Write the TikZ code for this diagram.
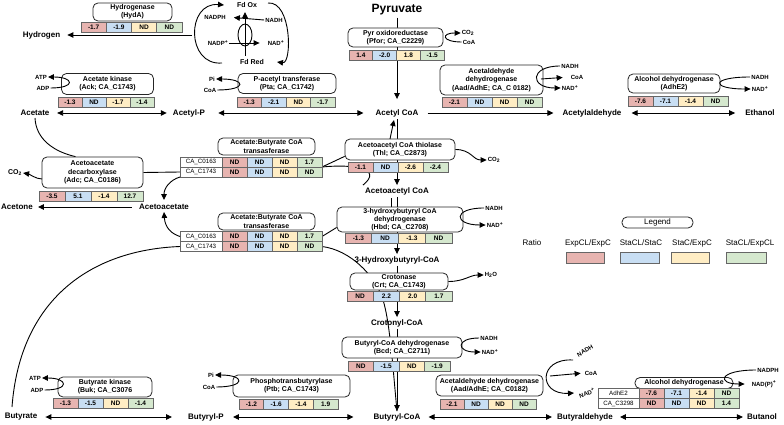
\documentclass[tikz,border=0pt]{standalone}
\usepackage{fontspec}
\setmainfont{Liberation Sans}
\usetikzlibrary{arrows.meta}
\pgfdeclarelayer{bg}
\pgfsetlayers{bg,main}
\definecolor{cR}{RGB}{231,180,176}
\definecolor{cB}{RGB}{200,222,243}
\definecolor{cY}{RGB}{255,237,196}
\definecolor{cG}{RGB}{213,232,206}
\newcommand\ratrow[7]{%
  \node[cell,fill=cR,minimum width=#3pt,anchor=west] (#1-1) at #2 {#4};
  \node[cell,fill=cB,minimum width=#3pt,anchor=west] (#1-2) at (#1-1.east) {#5};
  \node[cell,fill=cY,minimum width=#3pt,anchor=west] (#1-3) at (#1-2.east) {#6};
  \node[cell,fill=cG,minimum width=#3pt,anchor=west] (#1-4) at (#1-3.east) {#7};}
\tikzset{
  met/.style={font=\bfseries\fontsize{8}{9}\selectfont, inner sep=2pt},
  enz/.style={draw=black!85, line width=0.8pt, rounded corners=5pt, fill=white, align=center, font=\bfseries\fontsize{7}{8.2}\selectfont, inner sep=0pt},
  cell/.style={draw=black!60, line width=0.6pt, minimum height=10pt, inner sep=0pt, outer sep=0pt, font=\bfseries\fontsize{6.5}{7}\selectfont},
  lab/.style={cell, fill=white, minimum width=42pt, font=\fontsize{6.2}{7}\selectfont},
  cof/.style={font=\bfseries\fontsize{6}{7}\selectfont, inner sep=1pt},
  fd/.style={font=\bfseries\fontsize{7}{8}\selectfont, inner sep=1pt},
  hdr/.style={font=\fontsize{8}{9}\selectfont, inner sep=1pt},
  ln/.style={line width=0.9pt},
  arr/.style={line width=0.9pt, -{Triangle[length=6pt,width=5.5pt]}},
  darr/.style={line width=0.9pt, {Triangle[length=6pt,width=5.5pt]}-{Triangle[length=6pt,width=5.5pt]}},
}
\begin{document}
\begin{tikzpicture}[x=1pt,y=-1pt]
\useasboundingbox (0,0) rectangle (784,425);

% ---------------- top: hydrogenase and ferredoxin ----------------
\node[enz,minimum width=79pt,minimum height=18pt] (hyda) at (132.5,12) {Hydrogenase\\(HydA)};
\ratrow{rhyd}{(81,27)}{25.25}{-1.7}{-1.9}{ND}{ND}
\node[met] (hydrogen) at (41.5,35) {Hydrogen};
\coordinate (hstart) at (192,35);

\node[fd] (fdox) at (247,5) {Fd Ox};
\node[fd] (fdred) at (252,62) {Fd Red};
\node[cof] (nadph1) at (215,17) {NADPH};
\node[cof] (nadh1) at (274,20) {NADH};
\node[cof] (nadp1) at (218,43) {NADP\textsuperscript{+}};
\node[cof] (nad1) at (276,43) {NAD\textsuperscript{+}};
\coordinate (fa1) at (222,63);
\coordinate (fa2) at (224,5);
\coordinate (fb1) at (268,3);
\coordinate (fb2) at (277,62);
\coordinate (fv1) at (245,56);
\coordinate (fv2) at (245,12);
\coordinate (fe) at (245,35);

% ---------------- pyruvate ----------------
\node[met,font=\bfseries\fontsize{12}{14}\selectfont] (pyr) at (397,10) {Pyruvate};
\node[enz,minimum width=95pt,minimum height=19pt] (pfor) at (395.5,37.5) {Pyr oxidoreductase\\(Pfor; CA\_C2229)};
\ratrow{rpfor}{(349,55.5)}{23.75}{1.4}{-2.0}{1.8}{-1.5}
\node[cof] (co2a) at (468,33) {CO\textsubscript{2}};
\node[cof] (coaa) at (469,42) {CoA};

% ---------------- row 2 ----------------
\node[met] (acetate) at (35,113) {Acetate};
\node[met] (acetylp) at (189,113) {Acetyl-P};
\node[met] (acetylcoa) at (397,113) {Acetyl CoA};
\node[met] (acetald) at (592,113) {Acetylaldehyde};
\node[met] (ethanol) at (760,113) {Ethanol};

\node[enz,minimum width=92pt,minimum height=21pt] (ack) at (107.5,84) {Acetate kinase\\(Ack; CA\_C1743)};
\ratrow{rack}{(58,102.5)}{24}{-1.3}{ND}{-1.7}{-1.4}
\node[cof] (atp1) at (41,77) {ATP};
\node[cof] (adp1) at (43,88) {ADP};

\node[enz,minimum width=98pt,minimum height=20pt] (pta) at (287,83.5) {P-acetyl transferase\\(Pta; CA\_C1742)};
\ratrow{rpta}{(237,102.5)}{24.5}{-1.3}{-2.1}{ND}{-1.7}
\node[cof] (pi1) at (212,79) {Pi};
\node[cof] (coa1) at (210,90) {CoA};

\node[enz,minimum width=103pt,minimum height=30pt] (aad1) at (491.5,80) {Acetaldehyde\\dehydrogenase\\(Aad/AdhE; CA\_C 0182)};
\ratrow{raad1}{(442,102.5)}{25}{-2.1}{ND}{ND}{ND}
\node[cof] (nadh2) at (570,66) {NADH};
\node[cof] (coa2) at (577,77) {CoA};
\node[cof] (nad2) at (570,88) {NAD\textsuperscript{+}};
\coordinate (c2) at (541,79);

\node[enz,minimum width=92pt,minimum height=19pt] (adh1) at (674,83.5) {Alcohol dehydrogenase\\(AdhE2)};
\ratrow{radh1}{(628,101.5)}{25}{-7.6}{-7.1}{-1.4}{ND}
\node[cof] (nadh3) at (760,77) {NADH};
\node[cof] (nad3) at (760,89) {NAD\textsuperscript{+}};

% ---------------- row 3 ----------------
\node[enz,minimum width=97pt,minimum height=17pt] (abt1) at (266.5,146.5) {Acetate:Butyrate CoA\\transasferase};
\node[lab,anchor=west] (t1a-0) at (180,162) {CA\_C0163};
\ratrow{t1a}{(t1a-0.east)}{25}{ND}{ND}{ND}{1.7}
\node[lab,anchor=west] (t1b-0) at (180,172) {CA\_C1743};
\ratrow{t1b}{(t1b-0.east)}{25}{ND}{ND}{ND}{ND}

\node[enz,minimum width=110pt,minimum height=21pt] (thl) at (400,149.5) {Acetoacetyl CoA thiolase\\(Thl; CA\_C2873)};
\ratrow{rthl}{(348,167)}{25}{-1.1}{ND}{-2.6}{-2.4}
\node[cof] (co2b) at (494,160) {CO\textsubscript{2}};
\coordinate (u1) at (390,139);
\coordinate (u2) at (394,120);

\node[enz,minimum width=101pt,minimum height=31pt] (adc) at (92.5,172.5) {Acetoacetate\\decarboxylase\\(Adc; CA\_C0186)};
\ratrow{radc}{(39,196)}{26}{-3.5}{5.1}{-1.4}{12.7}
\node[fd] (co2c) at (15,173) {CO\textsubscript{2}};
\coordinate (adcl) at (42,179);

\node[met] (aaceto) at (164,207) {Acetoacetate};
\node[met] (acetone) at (17,207) {Acetone};
\node[met] (aacoa) at (397,191) {Acetoacetyl CoA};
\coordinate (aa1) at (391,198);
\coordinate (aa2) at (391,207);

% ---------------- row 4 ----------------
\node[enz,minimum width=97pt,minimum height=17pt] (abt2) at (266.5,221.5) {Acetate:Butyrate CoA\\transasferase};
\node[lab,anchor=west] (t2a-0) at (180,236.5) {CA\_C0163};
\ratrow{t2a}{(t2a-0.east)}{25}{ND}{ND}{ND}{1.7}
\node[lab,anchor=west] (t2b-0) at (180,246.5) {CA\_C1743};
\ratrow{t2b}{(t2b-0.east)}{25}{ND}{ND}{ND}{ND}

\node[enz,minimum width=126pt,minimum height=25pt] (hbd) at (400,219.5) {3-hydroxybutyryl CoA\\dehydrogenase\\(Hbd; CA\_C2708)};
\ratrow{rhbd}{(345,238)}{26.75}{-1.3}{ND}{-1.3}{ND}
\node[cof] (nadh4) at (494,208) {NADH};
\node[cof] (nad4) at (495,225) {NAD\textsuperscript{+}};

\node[met] (hbcoa) at (397,260) {3-Hydroxybutyryl-CoA};

\node[enz,minimum width=98pt,minimum height=17pt] (crt) at (399,281.5) {Crotonase\\(Crt; CA\_C1743)};
\ratrow{rcrt}{(347,296.5)}{26.25}{ND}{2.2}{2.0}{1.7}
\node[cof] (h2o) at (491,275) {H\textsubscript{2}O};

\node[met] (crcoa) at (397,323) {Crotonyl-CoA};

\node[enz,minimum width=120pt,minimum height=21pt] (bcd) at (402,347.5) {Butyryl-CoA dehydrogenase\\(Bcd; CA\_C2711)};
\ratrow{rbcd}{(348,366.5)}{25.5}{ND}{-1.5}{ND}{-1.9}
\node[cof] (nadh5) at (489,338) {NADH};
\node[cof] (nad5) at (490,352) {NAD\textsuperscript{+}};

% ---------------- legend ----------------
\node[enz,minimum width=71pt,minimum height=11pt,font=\fontsize{8}{9}\selectfont] (leg) at (657.5,222.5) {Legend};
\node[hdr] (ratio) at (532,243) {Ratio};
\node[hdr] (hd1) at (588,243) {ExpCL/ExpC};
\node[hdr] (hd2) at (641,243) {StaCL/StaC};
\node[hdr] (hd3) at (692,243) {StaC/ExpC};
\node[hdr] (hd4) at (750,243) {StaCL/ExpCL};
\node[cell,fill=cR,minimum width=38pt,minimum height=11pt] (sw1) at (585,257.5) {};
\node[cell,fill=cB,minimum width=39pt,minimum height=11pt] (sw2) at (639.5,257.5) {};
\node[cell,fill=cY,minimum width=38pt,minimum height=11pt] (sw3) at (690,257.5) {};
\node[cell,fill=cG,minimum width=40pt,minimum height=11pt] (sw4) at (746,257.5) {};

% ---------------- bottom ----------------
\node[met] (butyrate) at (21,417) {Butyrate};
\node[met] (butyrylp) at (206,417) {Butyryl-P};
\node[met] (bucoa) at (397,417) {Butyryl-CoA};
\node[met] (butald) at (585,417) {Butyraldehyde};
\node[met] (butanol) at (762,417) {Butanol};
\coordinate (barc) at (12,407);

\node[enz,minimum width=94pt,minimum height=20pt] (buk) at (105,387) {Butyrate kinase\\(Buk; CA\_C3076};
\ratrow{rbuk}{(53,403.5)}{25}{-1.3}{-1.5}{ND}{-1.4}
\node[cof] (atp2) at (35,378) {ATP};
\node[cof] (adp2) at (37,390) {ADP};

\node[enz,minimum width=117pt,minimum height=22pt] (ptb) at (291.5,386) {Phosphotransbutyrylase\\(Ptb; CA\_C1743)};
\ratrow{rptb}{(239,404)}{24.75}{-1.2}{-1.6}{-1.4}{1.9}
\node[cof] (pi2) at (211,375) {Pi};
\node[cof] (coa3) at (209,387) {CoA};

\node[enz,minimum width=107pt,minimum height=21pt] (aad2) at (489.5,385.5) {Acetaldehyde dehydrogenase\\(Aad/AdhE; CA\_C0182)};
\ratrow{raad2}{(440,404)}{24}{-2.1}{ND}{ND}{ND}
\node[cof,rotate=30] (nadh6) at (585,351) {NADH};
\node[cof] (coa4) at (591,373) {CoA};
\node[cof,rotate=20] (nad6) at (587,393) {NAD\textsuperscript{+}};
\coordinate (n6a) at (573,360);
\coordinate (n6b) at (574,393);
\coordinate (c4) at (550,376);

\node[enz,minimum width=98pt,minimum height=11pt] (adh2) at (684,383) {Alcohol dehydrogenase};
\node[lab,anchor=west,minimum width=41pt] (t3a-0) at (598,393.5) {AdhE2};
\ratrow{t3a}{(t3a-0.east)}{25}{-7.6}{-7.1}{-1.4}{ND}
\node[lab,anchor=west,minimum width=41pt] (t3b-0) at (598,403.5) {CA\_C3298};
\ratrow{t3b}{(t3b-0.east)}{25}{ND}{ND}{ND}{1.4}
\node[cof] (nadph7) at (768,370) {NADPH};
\node[cof] (nadp7) at (764,384) {NAD(P)\textsuperscript{+}};

% ---------------- connectors behind boxes ----------------
\begin{pgfonlayer}{bg}
\fill[white] (0,0) rectangle (784,425);
% main column
\draw[arr,shorten >=8pt] (pyr.south) -- (acetylcoa.north);
\draw[ln] (acetylcoa.south |- thl.north) -- (acetylcoa.south);
\draw[arr] (aacoa.north |- thl.center) -- (aacoa.north);
\draw[ln] (aacoa.south) -- (aacoa.south |- hbd.north);
\draw[ln] (aa1) -- (aa2);
\draw[arr] (hbcoa.north |- hbd.center) -- (hbcoa.north);
\draw[ln] (hbcoa.south) -- (hbcoa.south |- crt.center);
\draw[arr] (crcoa.north |- crt.center) -- (crcoa.north);
\draw[ln] (crcoa.south) -- (crcoa.south |- bcd.center);
\draw[arr] (bucoa.north |- bcd.center) -- (bucoa.north);
% CoA transferase links
\draw[ln] (acetate.south) .. controls (36,140) and (55,152) .. ([xshift=-17pt]adc.north);
\draw[ln] (adc.east) -- (t1b-0.west);
\draw[ln] (t1b-4.north east) -- ([yshift=4pt]thl.south west);
\draw[ln] (t1b-4.north east) .. controls (352,164) and (384,168) .. (aacoa.north west);
\draw[ln] (t2a-4.east) -- ([yshift=-8pt]hbd.west);
\draw[ln] (t2b-4.east) .. controls (350,250) and (375,275) .. (383,300) .. controls (390,322) and (393,370) .. (bucoa.north);
\draw[ln] (barc) .. controls (20,300) and (90,250) .. (t2b-0.west);
\end{pgfonlayer}

% ---------------- connectors ----------------
% hydrogen and ferredoxin
\draw[arr,shorten >=5pt] (hstart) -- (hydrogen.east);
\draw[arr] (fa1) .. controls (186,66) and (186,2) .. (fa2);
\draw[arr] (fb1) .. controls (292,1) and (292,64) .. (fb2);
\draw[arr,shorten >=7pt] (nadh1.west) -- (nadph1.east);
\draw[arr,shorten >=7pt] (nadp1.east) -- (nad1.west);
\draw[arr] (fv1) -- (fv2);
\draw[ln] (fe) ellipse [x radius=7pt, y radius=11pt];
% pyruvate cofactors
\draw[arr] (coaa.west) .. controls +(-20,0) and +(-20,0) .. (co2a.west);
% row 2 reactions
\draw[darr,shorten <=5.5pt,shorten >=4pt] (acetate.east) -- (acetylp.west);
\draw[darr,shorten <=11pt,shorten >=10pt] (acetylp.east) -- (acetylcoa.west);
\draw[arr,shorten <=7pt,shorten >=7pt] (acetylcoa.east) -- (acetald.west);
\draw[darr,shorten <=8pt,shorten >=8pt] (acetald.east) -- (ethanol.west);
% row 2 cofactors
\draw[arr] (adp1.east) .. controls +(26,0) and +(26,0) .. (atp1.east);
\draw[arr] (coa1.east) .. controls +(30,0) and +(30,0) .. (pi1.east);
\draw[arr] (nadh2.west) .. controls +(-31,0) and +(-31,0) .. (nad2.west);
\draw[arr,shorten >=7pt] (c2) -- (coa2.west);
\draw[arr] (nadh3.west) .. controls +(-40,0) and +(-40,0) .. (nad3.west);
% row 3
\draw[arr] (u1) -- (u2);
\draw[arr] (thl.east) .. controls +(16,0) and +(-14,0) .. (co2b.west);
\draw[arr] (adcl) .. controls +(-6,0) and +(6,1) .. (co2c.east);
\draw[arr,shorten <=5pt,shorten >=3pt] (aaceto.west) -- (acetone.east);
\draw[arr,shorten >=2pt] (t1b-0.south west) .. controls (170,180) and (164,188) .. (aaceto.north);
\draw[arr] (t2a-0.west) .. controls (172,234) and (165,228) .. (aaceto.south);
% row 4
\draw[arr] (nadh4.west) .. controls +(-32,0) and +(-32,0) .. (nad4.west);
\draw[arr] (crt.east) .. controls +(16,0) and +(-14,0) .. (h2o.west);
\draw[arr] (nadh5.west) .. controls +(-24,0) and +(-24,0) .. (nad5.west);
% bottom reactions
\draw[darr,shorten <=6pt,shorten >=14pt] (butyrate.east) -- (butyrylp.west);
\draw[darr,shorten <=7pt,shorten >=18pt] (butyrylp.east) -- (bucoa.west);
\draw[darr,shorten <=6pt,shorten >=3pt] (bucoa.east) -- (butald.west);
\draw[darr,shorten <=5pt,shorten >=2pt] (butald.east) -- (butanol.west);
% bottom cofactors
\draw[arr] (adp2.east) .. controls +(26,0) and +(26,0) .. (atp2.east);
\draw[arr] (coa3.east) .. controls +(30,0) and +(30,0) .. (pi2.east);
\draw[arr] (n6a) .. controls (538,358) and (538,395) .. (n6b);
\draw[arr,shorten >=3pt] (c4) -- (coa4.west);
\draw[arr,shorten >=6pt] (nadph7.west) .. controls +(-38,0) and +(-34,0) .. (nadp7.west);
\end{tikzpicture}
\end{document}
